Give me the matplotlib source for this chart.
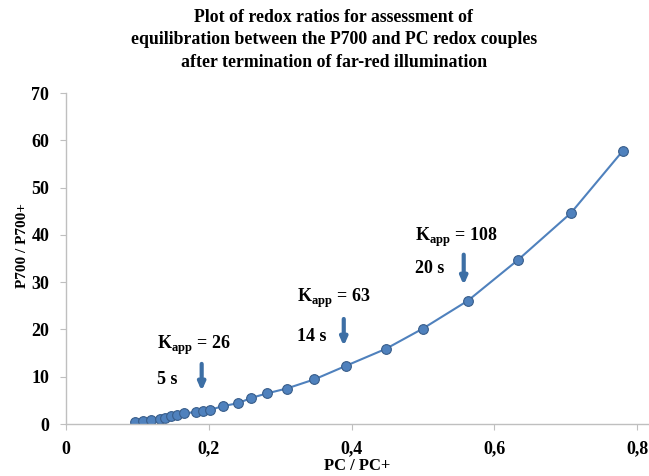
import matplotlib.pyplot as plt

# PC/PC+ vs P700/P700+
pc_ratio = [0.097, 0.108, 0.119, 0.131, 0.139, 0.147, 0.155, 0.165, 0.182, 0.192,
            0.202, 0.220, 0.241, 0.259, 0.282, 0.309, 0.348, 0.392, 0.448, 0.500,
            0.563, 0.633, 0.707, 0.780]
p700_ratio = [0.5, 0.74, 0.9, 1.06, 1.33, 1.63, 1.9, 2.26, 2.54, 2.75,
              3.0, 3.8, 4.4, 5.5, 6.5, 7.5, 9.45, 12.3, 15.9, 20.2,
              26.1, 34.7, 44.6, 57.8]

xticks = [0, 0.2, 0.4, 0.6, 0.8]
xticklabels = ['0', '0,2', '0,4', '0,6', '0,8']
yticks = [0, 10, 20, 30, 40, 50, 60, 70]

# annotations: label, time, text x, arrow x, arrow top, arrow tip
k_labels = ['26', '63', '108']
times = ['5 s', '14 s', '20 s']
text_x = [0.127, 0.3235, 0.489]
k_y = [16.7, 26.6, 39.5]
t_y = [9.5, 18.6, 32.8]
arrow_x = [0.190, 0.389, 0.557]
arrow_top = [13.3, 22.8, 36.4]
arrow_tip = [6.4, 15.9, 28.8]

plt.rcParams['font.family'] = 'Liberation Serif'
plt.rcParams['font.weight'] = 'bold'
plt.rcParams['mathtext.fontset'] = 'custom'
plt.rcParams['mathtext.rm'] = 'Liberation Serif:bold'
plt.rcParams['mathtext.bf'] = 'Liberation Serif:bold'

fig = plt.figure(figsize=(6.49, 4.76), dpi=100)
ax = fig.add_axes([0.1017, 0.1092, 0.8983, 0.6954])

ax.plot(pc_ratio, p700_ratio, '-o', color='#4F81BD', lw=1.5,
        markersize=7, markerfacecolor='#4F81BD', markeredgecolor='#385D8A',
        markeredgewidth=0.8)

for i in range(len(k_labels)):
    ax.text(text_x[i], k_y[i], r'K$_{\mathbf{app}}$ = ' + k_labels[i],
            fontsize=13, fontweight='bold', va='center', ha='left')
    ax.text(text_x[i], t_y[i], times[i], fontsize=13, fontweight='bold',
            va='center', ha='left')
    ax.annotate('', xy=(arrow_x[i], arrow_tip[i]), xytext=(arrow_x[i], arrow_top[i]),
                arrowprops=dict(arrowstyle='-|>,head_width=0.2,head_length=0.45',
                                color='#3D6FA5', lw=3))

ax.set_xlim(0, 0.8165)
ax.set_ylim(0, 70)
ax.set_xticks(xticks)
ax.set_xticklabels(xticklabels)
ax.set_yticks(yticks)

for s in ['top', 'right']:
    ax.spines[s].set_visible(False)
for s in ['left', 'bottom']:
    ax.spines[s].set_color('#BFBFBF')
    ax.spines[s].set_linewidth(1)
ax.tick_params(colors='#BFBFBF', length=4, direction='out', labelsize=13, pad=8)
for label in ax.get_xticklabels() + ax.get_yticklabels():
    label.set_color('black')
    label.set_fontweight('bold')

ax.set_xlabel('PC / PC+', fontsize=12, fontweight='bold', labelpad=0)
ax.set_ylabel('P700 / P700+', fontsize=11, fontweight='bold')
ax.yaxis.set_label_coords(-0.064, 0.54)

fig.text(0.514, 0.916, 'Plot of redox ratios for assessment of\n'
         'equilibration between the P700 and PC redox couples\n'
         'after termination of far-red illumination',
         ha='center', va='center', fontsize=12.8, fontweight='bold', linespacing=1.4)

plt.savefig('out.png', dpi=100)
